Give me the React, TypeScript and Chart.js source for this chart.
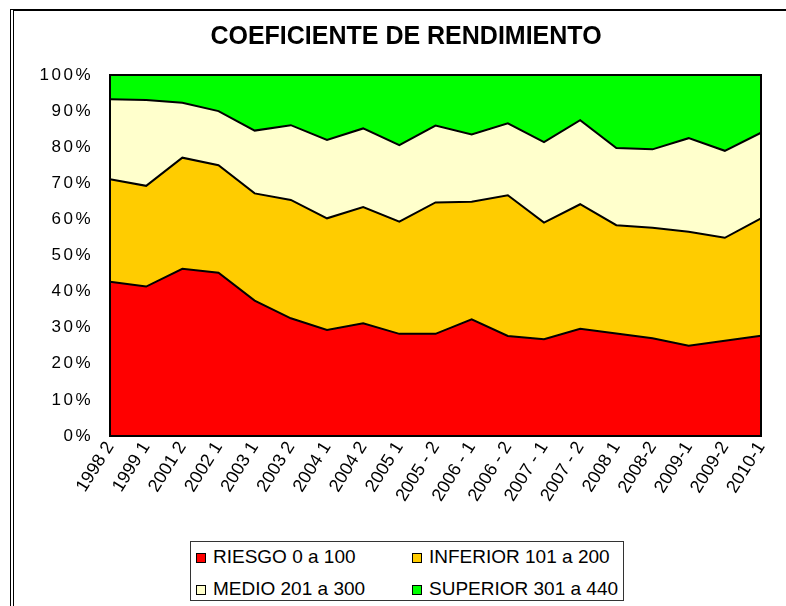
import React, { useEffect, useRef } from 'react';
import { Chart, registerables } from 'chart.js';

Chart.register(...registerables);

const categories = [
  '1998 2', '1999 1', '2001 2', '2002 1', '2003 1', '2003 2', '2004 1', '2004 2',
  '2005 1', '2005 - 2', '2006 - 1', '2006 - 2', '2007 - 1', '2007 - 2', '2008 1',
  '2008-2', '2009-1', '2009-2', '2010-1',
];

const riesgo = [42.7, 41.4, 46.3, 45.2, 37.5, 32.6, 29.4, 31.2, 28.3, 28.3, 32.3, 27.7, 26.8, 29.7, 28.4, 27.1, 25.0, 26.4, 27.8];
const inferior = [28.4, 27.9, 30.8, 29.8, 29.7, 32.8, 30.9, 32.2, 31.1, 36.4, 32.6, 39.0, 32.3, 34.5, 30.0, 30.6, 31.6, 28.5, 32.5];
const medio = [22.2, 23.8, 15.2, 15.0, 17.4, 20.7, 21.7, 21.8, 21.2, 21.3, 18.6, 19.9, 22.3, 23.3, 21.4, 21.7, 25.9, 24.1, 23.7];
const superior = [6.7, 6.9, 7.7, 10.0, 15.4, 13.9, 18.0, 14.8, 19.4, 14.0, 16.5, 13.4, 18.6, 12.5, 20.2, 20.6, 17.5, 21.0, 16.0];

const seriesLabels = ['RIESGO 0 a 100', 'INFERIOR 101 a 200', 'MEDIO 201 a 300', 'SUPERIOR 301 a 440'];
const seriesColors = ['#FF0000', '#FFCC00', '#FFFFCC', '#00FF00'];
const seriesData = [riesgo, inferior, medio, superior];

const yTicks = [0, 10, 20, 30, 40, 50, 60, 70, 80, 90, 100];

const titleText = 'COEFICIENTE DE RENDIMIENTO';
const FONT = '"Liberation Sans", Arial, sans-serif';

const areaBorder = {
  id: 'areaBorder',
  afterDatasetsDraw(chart: any) {
    const { ctx, chartArea } = chart;
    const { left, top, right, bottom } = chartArea;
    ctx.save();
    ctx.strokeStyle = '#000';
    ctx.lineWidth = 2;
    ctx.strokeRect(left, top, right - left, bottom - top);
    ctx.restore();
  },
};

// widen the y-axis tick labels slightly (letter spacing), as in the reference
const wideYLabels = {
  id: 'wideYLabels',
  afterUpdate(chart: any) {
    const s = chart.scales.y;
    if (!s || s.__wide) return;
    const orig = s.drawLabels.bind(s);
    s.drawLabels = (area: any) => {
      const ctx = chart.ctx as any;
      const prev = ctx.letterSpacing;
      ctx.letterSpacing = '2.5px';
      orig(area);
      ctx.letterSpacing = prev || '0px';
    };
    s.__wide = true;
  },
};

export default function App() {
  const ref = useRef<HTMLCanvasElement>(null);

  useEffect(() => {
    document.body.style.margin = '0';
    document.body.style.overflow = 'hidden';
    const chart = new Chart(ref.current as HTMLCanvasElement, {
      type: 'line',
      data: {
        labels: categories,
        datasets: seriesData.map((d, i) => ({
          label: seriesLabels[i],
          data: d,
          backgroundColor: seriesColors[i],
          borderColor: '#000',
          borderWidth: 2,
          pointRadius: 0,
          tension: 0,
          fill: i === 0 ? 'origin' : '-1',
        })),
      },
      options: {
        responsive: false,
        animation: false,
        layout: { padding: { left: 0, right: 25, top: 75, bottom: 0 } },
        plugins: {
          legend: { display: false },
          title: { display: false },
          tooltip: { enabled: false },
        },
        scales: {
          x: {
            grid: { display: false, drawTicks: false },
            border: { display: false },
            ticks: {
              autoSkip: false,
              minRotation: 58,
              maxRotation: 58,
              color: '#000',
              padding: 2,
              font: { family: FONT, size: 18 },
            },
            afterFit(scale: any) {
              scale.height = 104;
            },
          },
          y: {
            stacked: true,
            min: 0,
            max: 100,
            grid: { display: false, drawTicks: false },
            border: { display: false },
            afterBuildTicks(scale: any) {
              scale.ticks = yTicks.map((v) => ({ value: v }));
            },
            ticks: {
              color: '#000',
              padding: 17,
              font: { family: FONT, size: 17 },
              callback: (v: any) => v + '%',
            },
            afterFit(scale: any) {
              scale.width = 110;
            },
          },
        },
      },
      plugins: [areaBorder, wideYLabels],
    });
    return () => chart.destroy();
  }, []);

  const legendPos = [
    { sx: 196, sy: 553, tx: 213, ty: 547 },
    { sx: 412, sy: 553, tx: 429, ty: 547 },
    { sx: 196, sy: 585, tx: 213, ty: 579 },
    { sx: 412, sy: 585, tx: 429, ty: 579 },
  ];

  return (
    <div style={{ position: 'relative', width: 786, height: 606, overflow: 'hidden', background: '#fff', fontFamily: FONT }}>
      <div style={{ position: 'absolute', left: 10, top: 9, width: 800, height: 620, borderTop: '2px solid #000', borderLeft: '4px double #000' }} />
      <canvas ref={ref} width={786} height={540} style={{ position: 'absolute', left: 0, top: 0, display: 'block' }} />
      <div style={{ position: 'absolute', left: 0, top: 20, width: 812, textAlign: 'center', fontWeight: 'bold', fontSize: 25, lineHeight: '30px', color: '#000' }}>
        {titleText}
      </div>
      <div style={{ position: 'absolute', left: 190, top: 541, width: 432, height: 58, border: '1px solid #333' }} />
      {seriesLabels.map((lab, i) => (
        <React.Fragment key={lab}>
          <div style={{ position: 'absolute', left: legendPos[i].sx, top: legendPos[i].sy, width: 8, height: 8, background: seriesColors[i], border: '1px solid #000' }} />
          <div style={{ position: 'absolute', left: legendPos[i].tx, top: legendPos[i].ty, fontSize: 19, lineHeight: '19px', whiteSpace: 'nowrap', color: '#000' }}>
            {lab}
          </div>
        </React.Fragment>
      ))}
    </div>
  );
}
